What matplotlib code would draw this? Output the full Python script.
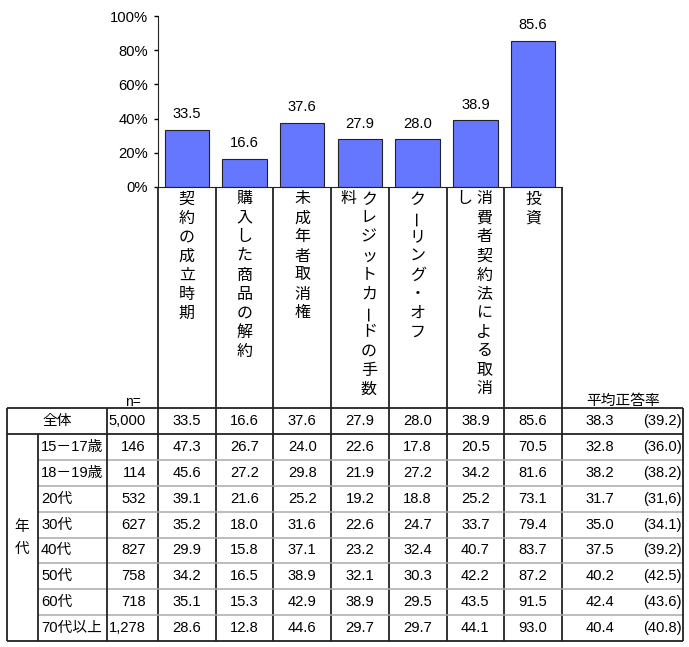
import matplotlib
matplotlib.use("Agg")
import matplotlib.pyplot as plt

plt.rcParams['font.family'] = ['Liberation Sans', 'Noto Sans CJK JP', 'DejaVu Sans']

# 項目と全体の正答率
categories = ["契約の成立時期", "購入した商品の解約", "未成年者取消権",
              "クレジットカードの手数料", "クーリング・オフ",
              "消費者契約法による取消し", "投資"]
overall = [33.5, 16.6, 37.6, 27.9, 28.0, 38.9, 85.6]
yticks = [0, 20, 40, 60, 80, 100]

# 表の中身
row_labels = ["15－17歳", "18－19歳", "20代", "30代", "40代", "50代", "60代", "70代以上"]
row_n = ["146", "114", "532", "627", "827", "758", "718", "1,278"]
total_n = "5,000"
table_vals = [
    [47.3, 26.7, 24.0, 22.6, 17.8, 20.5, 70.5],
    [45.6, 27.2, 29.8, 21.9, 27.2, 34.2, 81.6],
    [39.1, 21.6, 25.2, 19.2, 18.8, 25.2, 73.1],
    [35.2, 18.0, 31.6, 22.6, 24.7, 33.7, 79.4],
    [29.9, 15.8, 37.1, 23.2, 32.4, 40.7, 83.7],
    [34.2, 16.5, 38.9, 32.1, 30.3, 42.2, 87.2],
    [35.1, 15.3, 42.9, 38.9, 29.5, 43.5, 91.5],
    [28.6, 12.8, 44.6, 29.7, 29.7, 44.1, 93.0],
]
avg_rate = ["38.3", "32.8", "38.2", "31.7", "35.0", "37.5", "40.2", "42.4", "40.4"]
avg_paren = ["(39.2)", "(36.0)", "(38.2)", "(31,6)", "(34.1)", "(39.2)", "(42.5)", "(43.6)", "(40.8)"]

W, H = 689, 647
fig = plt.figure(figsize=(W / 100, H / 100), dpi=100)

# レイアウト（ピクセル）
col_l, col_w = 158, 57.7
ncat = len(categories)
col_edges = [col_l + i * col_w for i in range(ncat + 1)]
y0, y100 = 187, 16
tab_top, row_h = 408, 25.9
dark = "#222222"
fs = 10.6

# 棒グラフ
ax = fig.add_axes([col_l / W, 1 - y0 / H, ncat * col_w / W, (y0 - y100) / H])
x = list(range(ncat))
ax.bar(x, overall, width=0.77, color="#6677ff", edgecolor=dark, linewidth=0.8)
for xi, v in zip(x, overall):
    ax.text(xi, v + 5, f"{v:.1f}", ha="center", va="bottom", fontsize=fs)
ax.set_xlim(-0.5, ncat - 0.5)
ax.set_ylim(0, 100)
ax.set_yticks(yticks)
ax.set_yticklabels([f"{t}%" for t in yticks], fontsize=fs)
ax.tick_params(axis="y", length=3, width=1, pad=4)
ax.set_xticks([])
for s in ["top", "right"]:
    ax.spines[s].set_visible(False)
ax.spines["left"].set_color(dark)
ax.spines["bottom"].set_color(dark)
ax.patch.set_alpha(0)

# 表部分
tab = fig.add_axes([0, 0, 1, 1])
tab.set_xlim(0, W)
tab.set_ylim(H, 0)
tab.axis("off")

nrows = 1 + len(row_labels)
tab_bot = tab_top + nrows * row_h
right = 683


def hline(y, x1, x2, c=dark, lw=1.3):
    tab.plot([x1, x2], [y, y], color=c, lw=lw, solid_capstyle="butt")


def vline(xv, ya, yb, c=dark, lw=1.3):
    tab.plot([xv, xv], [ya, yb], color=c, lw=lw, solid_capstyle="butt")


# 項目名の枠
for xe in col_edges:
    vline(xe, y0, tab_bot)
hline(tab_top, 7, right)
hline(tab_top + row_h, 7, right)
hline(tab_bot, 7, right)
for i in range(2, nrows):
    hline(tab_top + i * row_h, 38, right, c="#aaaaaa", lw=1.1)
vline(7, tab_top, tab_bot)
vline(38, tab_top + row_h, tab_bot)
vline(107, tab_top, tab_bot)
vline(right, tab_top, tab_bot)


# 縦書きラベル（長音は縦に回す）
def vertical_text(xc, ytop, s, step=19.0):
    for k, ch in enumerate(s):
        rot = 90 if ch == "ー" else 0
        tab.text(xc, ytop + k * step, ch, rotation=rot, ha="center", va="center", fontsize=11.5)


maxlen = 11
for i, lab in enumerate(categories):
    xc = (col_edges[i] + col_edges[i + 1]) / 2
    if len(lab) > maxlen:
        vertical_text(xc + 9, 199, lab[:maxlen])
        vertical_text(xc - 11, 199, lab[maxlen:])
    else:
        vertical_text(xc, 199, lab)

tab.text(133, 402, "n=", ha="center", va="center", fontsize=10)
tab.text(623, 401, "平均正答率", ha="center", va="center", fontsize=fs)

# 数値
def row_y(i):
    return tab_top + (i + 0.5) * row_h


tab.text(57, row_y(0), "全体", ha="center", va="center", fontsize=fs)
tab.text(146, row_y(0), total_n, ha="right", va="center", fontsize=fs)
for j, v in enumerate(overall):
    xc = (col_edges[j] + col_edges[j + 1]) / 2
    tab.text(xc, row_y(0), f"{v:.1f}", ha="center", va="center", fontsize=fs)
tab.text(600, row_y(0), avg_rate[0], ha="center", va="center", fontsize=fs)
tab.text(682, row_y(0), avg_paren[0], ha="right", va="center", fontsize=fs)

for i, lab in enumerate(row_labels):
    yc = row_y(i + 1)
    tab.text(41, yc, lab, ha="left", va="center", fontsize=fs)
    tab.text(146, yc, row_n[i], ha="right", va="center", fontsize=fs)
    for j, v in enumerate(table_vals[i]):
        xc = (col_edges[j] + col_edges[j + 1]) / 2
        tab.text(xc, yc, f"{v:.1f}", ha="center", va="center", fontsize=fs)
    tab.text(600, yc, avg_rate[i + 1], ha="center", va="center", fontsize=fs)
    tab.text(682, yc, avg_paren[i + 1], ha="right", va="center", fontsize=fs)

ymid = (tab_top + row_h + tab_bot) / 2
tab.text(22, ymid - 11, "年", ha="center", va="center", fontsize=fs)
tab.text(22, ymid + 11, "代", ha="center", va="center", fontsize=fs)

fig.savefig("out.png", dpi=100)
